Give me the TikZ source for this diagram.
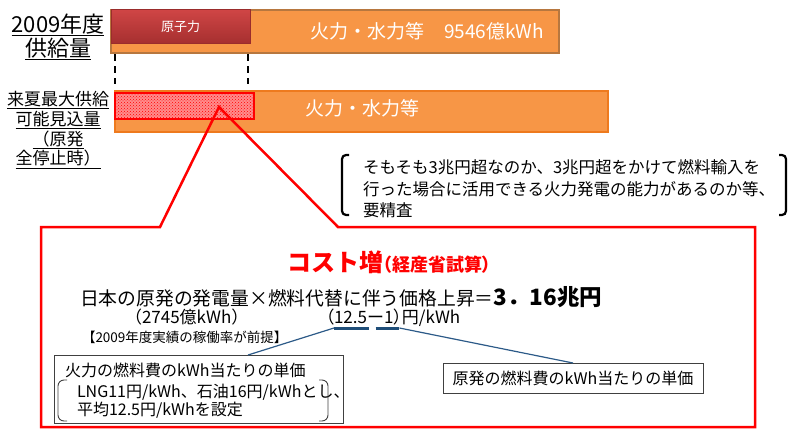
\documentclass[tikz,border=0pt]{standalone}
\usepackage{fontspec}
\setmainfont{Noto Sans CJK JP}
\newfontfamily\jpprop[RawFeature=+palt]{Noto Sans CJK JP}
\usetikzlibrary{patterns}
\definecolor{barOrange}{HTML}{F79646}
\definecolor{barEdgeA}{HTML}{B7773F}
\definecolor{barEdgeB}{HTML}{EE7A1E}
\definecolor{nucRed}{HTML}{C23B3B}
\definecolor{nucRedTop}{HTML}{CF4545}
\definecolor{nucRedBot}{HTML}{A52F2F}
\definecolor{nucEdge}{HTML}{9A2C2C}
\definecolor{lineBlue}{HTML}{2C5A88}
\definecolor{ulBlue}{HTML}{1F4E79}
\newcommand{\fsz}[2]{\fontsize{#1}{#2}\selectfont}
\newcommand{\pp}[1]{{\jpprop #1}}
\begin{document}
\begin{tikzpicture}[x=1pt,y=-1pt,
  box/.style={anchor=north west, inner sep=0pt, outer sep=0pt},
  txt/.style={inner sep=0pt, outer sep=0pt},
  dashline/.style={black, line width=2pt, dash pattern=on 7pt off 5pt},
  callout/.style={red, line width=2.5pt, line join=miter},
  brk/.style={black, line width=2.2pt, rounded corners=4pt},
  conn/.style={lineBlue, line width=1.2pt},
  ul/.style={ulBlue, line width=3pt},
  thinbox/.style={box, draw=black!75, line width=0.9pt},
]
\useasboundingbox (0,0) rectangle (791,428);

% ---- left labels
\node[txt, align=center, font={\fsz{22}{24}}] (lab1) at (58,37)
  {\underline{2009年度}\\\underline{供給量}};
\node[txt, align=center, font={\fsz{17}{19.7}}] (lab2) at (58,130)
  {\underline{来夏最大供給}\\\underline{可能見込量}\\\underline{（原発}\\\underline{全停止時）}};

% ---- top bar
\node[box, minimum width=448pt, minimum height=43pt, fill=barOrange, draw=barEdgeA, line width=1.5pt] (bar1) at (111,10) {};
\node[box, minimum width=139pt, minimum height=34pt, top color=nucRedTop, bottom color=nucRedBot, draw=nucEdge, line width=1pt] (nuc) at (111,10) {};
\node[txt, text=white, font={\fsz{13}{13}}] (nucT) at (nuc.center) {原子力};
\node[txt, anchor=west, text=white, font={\fsz{19}{19}}] (fireA) at (310,31) {火力・水力等};
\node[txt, anchor=west, text=white, font={\fsz{19}{19}}] (amt) at (444,31) {9546億kWh};

% ---- dashed guides
\coordinate (dA1) at (115,54);
\coordinate (dA2) at (115,84);
\coordinate (dB1) at (248,54);
\coordinate (dB2) at (248,84);
\draw[dashline] (dA1) -- (dA2);
\draw[dashline] (dB1) -- (dB2);

% ---- second bar
\node[box, minimum width=493pt, minimum height=41pt, fill=barOrange, draw=barEdgeB, line width=2pt] (bar2) at (115,91) {};
\node[box, minimum width=139pt, minimum height=26pt, fill=red!45] (hat) at (115,93) {};
\fill[pattern=crosshatch dots, pattern color=red] (hat.north west) rectangle (hat.south east);
\draw[red, line width=2pt] (hat.north west) rectangle (hat.south east);
\node[txt, anchor=west, text=white, font={\fsz{19}{19}}] (fireB) at (305,108) {火力・水力等};

% ---- callout
\coordinate (apex) at (219,107);
\coordinate (cL) at (160,227);
\coordinate (cR) at (338,227);
\coordinate (cTL) at (41,227);
\coordinate (cTR) at (755,227);
\coordinate (cBR) at (755,427);
\coordinate (cBL) at (41,427);
\draw[callout] (cTL) -- (cL) -- (apex) -- (cR) -- (cTR) -- (cBR) -- (cBL) -- cycle;

% ---- bracket note
\draw[brk] (349,155) -- (342,155) -- (342,215) -- (349,215);
\draw[brk] (779,155) -- (786,155) -- (786,215) -- (779,215);
\node[txt, anchor=west, align=left, font={\fsz{16.5}{21.5}}] (note) at (363,189)
  {そもそも3兆円超なのか、3兆円超をかけて燃料輸入を\\行った場合に活用できる火力発電の能力があるのか等、\\要精査};

% ---- title
\node[txt, anchor=west, text=red, font={\bfseries}] (title) at (287,262)
  {\fsz{24}{24}コスト増\fsz{18}{18}\pp{（}経産省試算\pp{）}};

% ---- formula
\node[txt, anchor=base west] (main) at (80,305)
  {\fsz{18.8}{18.8}日本の原発の発電量×燃料代替に伴う価格上昇＝\fsz{22.5}{22.5}\bfseries 3．16兆円};
\node[txt, anchor=base west, font={\fsz{17}{17}}] (kwh) at (125,323) {（2745億kWh）};
\node[txt, anchor=base west, font={\fsz{17}{17}}] (n125) at (334,323) {12.5};
\node[txt, anchor=base east, font={\fsz{17}{17}}] (po) at (n125.base west) {\pp{（}};
\node[txt, anchor=base west, font={\fsz{17}{17}}] (minus) at (n125.base east) {ー};
\node[txt, anchor=base west, font={\fsz{17}{17}}] (n1) at (minus.base east) {1};
\node[txt, anchor=base west, font={\fsz{17}{17}}] (unit) at (n1.base east) {\pp{）}円/kWh};
\node[txt, anchor=west, font={\fsz{13.5}{13.5}}] (premise) at (82,337) {【2009年度実績の稼働率が前提】};

\coordinate (u1a) at ([yshift=-5pt]n125.base west);
\coordinate (u1b) at ([yshift=-5pt,xshift=2pt]n125.base east);
\coordinate (u2a) at ([yshift=-5pt]minus.base);
\coordinate (u2b) at ([yshift=-5pt,xshift=6pt]n1.base east);
\draw[ul] (u1a) -- (u1b);
\draw[ul] (u2a) -- (u2b);

% ---- left explanation box
\node[thinbox, minimum width=289pt, minimum height=68pt] (lbox) at (54,355) {};
\node[txt, anchor=west, font={\fsz{16}{16}}] (lboxT) at (65,370) {火力の燃料費のkWh当たりの単価};
\node[txt, anchor=west, align=left, font={\fsz{16}{17.5}}] (lboxD) at (77,401)
  {LNG11円/kWh、石油16円/kWhとし、\\平均12.5円/kWhを設定};
\draw[black!75, line width=0.9pt, rounded corners=6pt] (67,380) -- (58,380) -- (58,421) -- (67,421);
\draw[black!75, line width=0.9pt, rounded corners=6pt] (319,380) -- (328,380) -- (328,421) -- (319,421);

% ---- right explanation box
\node[thinbox, minimum width=260pt, minimum height=30pt] (rbox) at (443,363) {};
\node[txt, font={\fsz{16}{16}}] (rboxT) at (rbox.center) {原発の燃料費のkWh当たりの単価};

% ---- connectors
\coordinate (lbTop) at (248,355);
\draw[conn] (lbTop) -- (u1a);
\draw[conn] (u2b) -- (rbox.north);
\end{tikzpicture}
\end{document}
